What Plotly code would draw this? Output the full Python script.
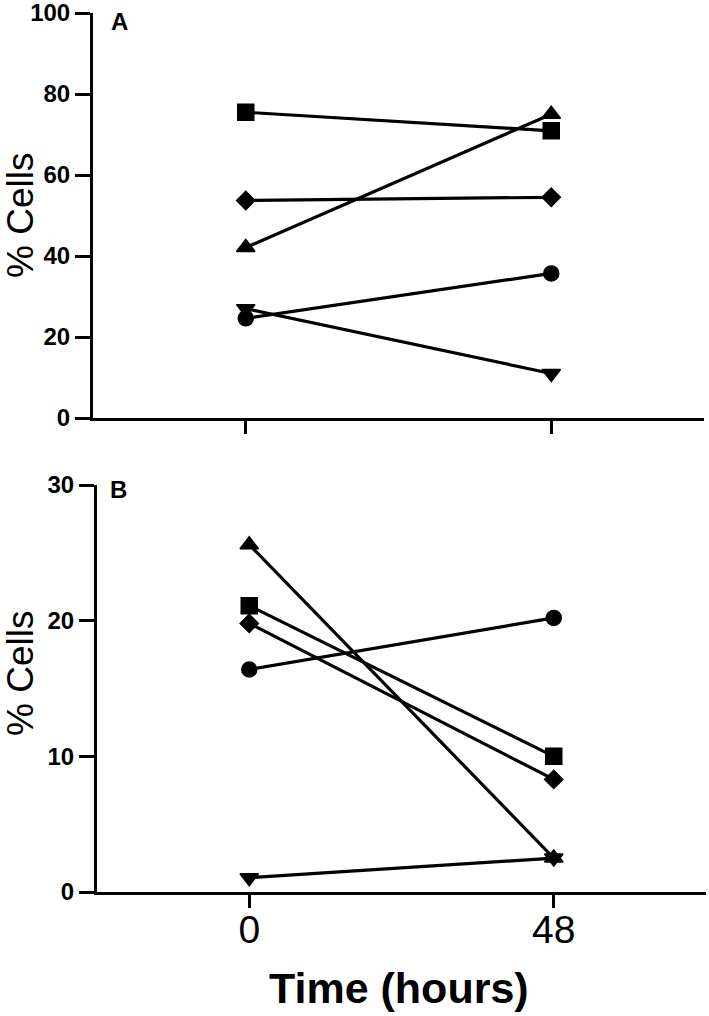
import plotly.graph_objects as go

# ---- data ----
time_points = [0, 48]
series_names = ["circle", "square", "triangle-up", "triangle-down", "diamond"]

panel_a = {
    "circle": [24.6, 35.7],
    "square": [75.5, 70.9],
    "triangle-up": [42.1, 75.0],
    "triangle-down": [27.0, 11.0],
    "diamond": [53.7, 54.5],
}
panel_b = {
    "circle": [16.4, 20.2],
    "square": [21.1, 10.0],
    "triangle-up": [25.6, 2.5],
    "triangle-down": [1.05, 2.5],
    "diamond": [19.8, 8.3],
}
yticks_a = [0, 20, 40, 60, 80, 100]
yticks_b = [0, 10, 20, 30]
xtick_labels = ["0", "48"]

W, H = 709, 1016
marker_sizes = {"circle": 15, "square": 16, "triangle-up": 16,
                "triangle-down": 16, "diamond": 14}

fig = go.Figure()
for panel, (xa, ya) in [(panel_a, ("x", "y")), (panel_b, ("x2", "y2"))]:
    for name in series_names:
        fig.add_trace(go.Scatter(
            x=time_points, y=panel[name], mode="lines+markers",
            xaxis=xa, yaxis=ya, showlegend=False,
            line=dict(color="black", width=3.2),
            marker=dict(symbol=name, size=marker_sizes[name], color="black",
                        line=dict(color="black", width=1.5)),
            cliponaxis=False,
        ))

def px_x(p):
    return p / W

def px_y(p):
    return 1 - p / H

tickfont_y = dict(family="Liberation Sans, Arial, sans-serif", size=24, color="black")
common_x = dict(range=[-24, 72], showline=True, linewidth=3, linecolor="black",
                ticks="outside", ticklen=13, tickwidth=3, tickcolor="black",
                showgrid=False, zeroline=False, tickvals=time_points,
                fixedrange=True)
common_y = dict(showline=True, linewidth=3, linecolor="black",
                ticks="outside", ticklen=15, tickwidth=3, tickcolor="black",
                showgrid=False, zeroline=False, ticklabeloverflow="allow",
                tickfont=dict(**tickfont_y, weight="bold"))

fig.update_layout(
    width=W, height=H,
    margin=dict(l=0, r=0, t=0, b=0, autoexpand=False),
    paper_bgcolor="white", plot_bgcolor="white",
    xaxis=dict(**common_x, domain=[px_x(93), px_x(704)], anchor="y",
               showticklabels=False),
    yaxis=dict(**common_y, domain=[px_y(418), px_y(13)], range=[0, 100],
               tickvals=yticks_a, anchor="x"),
    xaxis2=dict(**common_x, domain=[px_x(97), px_x(706)], anchor="y2",
                ticktext=xtick_labels, ticklabelstandoff=-12,
                tickfont=dict(family="Liberation Sans, Arial, sans-serif",
                              size=39, color="black")),
    yaxis2=dict(**common_y, domain=[px_y(892), px_y(485)], range=[0, 30],
                tickvals=yticks_b, anchor="x2"),
)

ann_font = dict(family="Liberation Sans, Arial, sans-serif", color="black")
fig.add_annotation(x=px_x(120), y=px_y(22), xref="paper", yref="paper",
                   text="<b>A</b>", showarrow=False, font=dict(**ann_font, size=24),
                   xanchor="center", yanchor="middle")
fig.add_annotation(x=px_x(118), y=px_y(489), xref="paper", yref="paper",
                   text="<b>B</b>", showarrow=False, font=dict(**ann_font, size=24),
                   xanchor="center", yanchor="middle")
fig.add_annotation(x=px_x(20), y=px_y(216), xref="paper", yref="paper",
                   text="% Cells", showarrow=False, textangle=-90,
                   font=dict(**ann_font, size=37), xanchor="center", yanchor="middle")
fig.add_annotation(x=px_x(20), y=px_y(674), xref="paper", yref="paper",
                   text="% Cells", showarrow=False, textangle=-90,
                   font=dict(**ann_font, size=37), xanchor="center", yanchor="middle")
fig.add_annotation(x=px_x(399), y=px_y(988), xref="paper", yref="paper",
                   text="<b>Time (hours)</b>", showarrow=False,
                   font=dict(**ann_font, size=43), xanchor="center", yanchor="middle")

fig.write_html("out.html", config={"displayModeBar": False},
               post_script="document.body.style.margin='0px';")
